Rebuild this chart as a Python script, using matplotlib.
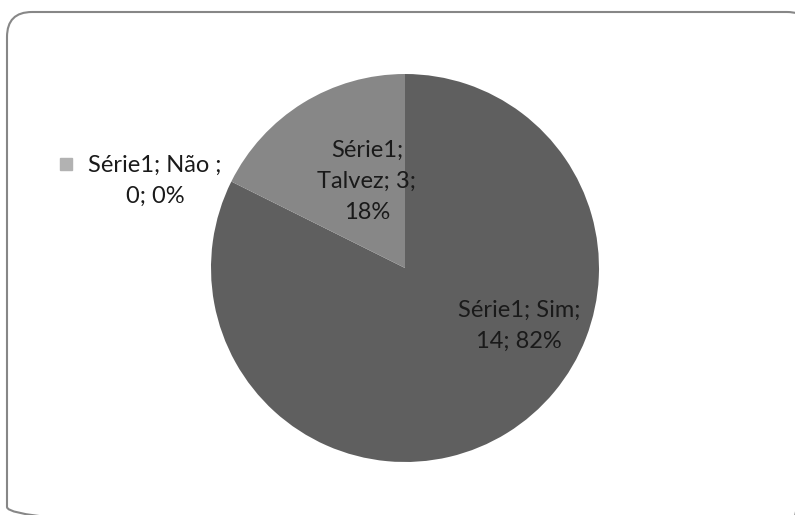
import matplotlib.pyplot as plt
from matplotlib.patches import FancyBboxPatch

# Pie data (Série1)
categories = ['Sim', 'Não', 'Talvez']
values = [14, 0, 3]
colors = ['#5f5f5f', '#b2b2b2', '#878787']

plt.rcParams['font.family'] = ['Lato', 'DejaVu Sans']

fig = plt.figure(figsize=(7.95, 5.15), dpi=100)

# background axes in pixel units for the rounded chart border
bg = fig.add_axes([0, 0, 1, 1])
bg.set_xlim(0, 795)
bg.set_ylim(515, 0)
bg.axis('off')
bg.add_patch(FancyBboxPatch((7, 12), 805, 520, boxstyle='round,pad=0,rounding_size=25',
                            facecolor='none', edgecolor='#878787', linewidth=1.5,
                            clip_on=False))

ax = fig.add_axes([211 / 795, 53 / 515, 388 / 795, 388 / 515])
ax.pie(values, colors=colors, startangle=90, counterclock=False,
       wedgeprops={'linewidth': 0})
ax.set_xlim(-1, 1)
ax.set_ylim(-1, 1)
ax.set_aspect('equal')

fs = 17
tc = '#1a1a1a'
ls = 1.6
ax.text(0.588, -0.30, 'Série1; Sim;\n14; 82%', ha='center', va='center',
        fontsize=fs, color=tc, linespacing=ls)
ax.text(-0.196, 0.448, 'Série1;\nTalvez; 3;\n18%', ha='center', va='center',
        fontsize=fs, color=tc, linespacing=ls)
ax.text(-1.289, 0.451, 'Série1; Não ;\n0; 0%', ha='center', va='center',
        fontsize=fs, color=tc, linespacing=ls, clip_on=False)
ax.plot([-1.747], [0.536], marker='s', markersize=9, color=colors[1],
        linestyle='none', clip_on=False)

fig.savefig('out.png', dpi=100)
